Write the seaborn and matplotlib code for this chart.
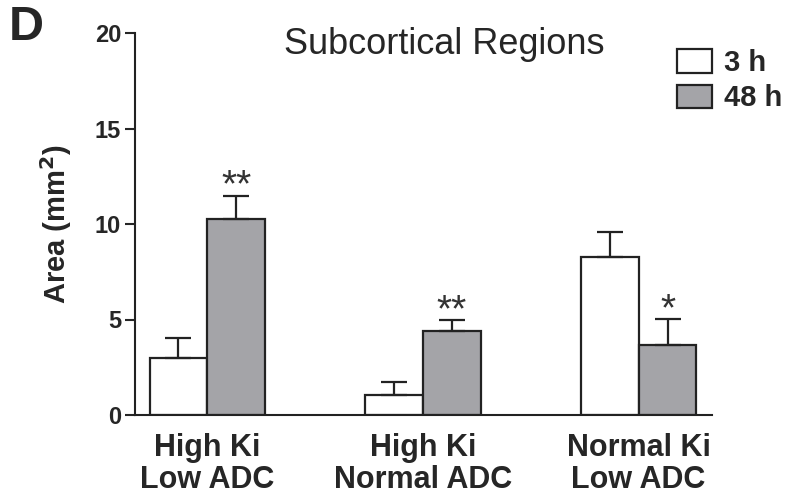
import seaborn as sns
import pandas as pd
import matplotlib.pyplot as plt

# data
regions = ['High Ki\nLow ADC', 'High Ki\nNormal ADC', 'Normal Ki\nLow ADC']
times = ['3 h', '48 h']
area_3h = [3.0, 1.05, 8.26]
area_48h = [10.26, 4.41, 3.65]
sem_3h = [1.05, 0.66, 1.34]
sem_48h = [1.22, 0.55, 1.36]
stars_48h = ['**', '**', '*']

sns.set_style('ticks')
plt.rcParams['font.family'] = ['Liberation Sans', 'DejaVu Sans']

df = pd.DataFrame({
    'region': regions * 2,
    'time': [times[0]] * 3 + [times[1]] * 3,
    'area': area_3h + area_48h,
})

fig = plt.figure(figsize=(7.86, 4.97), dpi=100)
ax = fig.add_axes([135 / 786, 1 - 415 / 497, (712 - 135) / 786, (415 - 33) / 497])

# Type of plot
sns.barplot(data=df, x='region', y='area', hue='time', order=regions, hue_order=times,
            palette=['white', '#a4a4a8'], width=0.535, gap=0, errorbar=None,
            edgecolor='#222222', linewidth=1.6, saturation=1, ax=ax, legend=False)

# upper error bars + significance marks
errs = sem_3h + sem_48h
vals = area_3h + area_48h
bars = [p for p in ax.patches if p.get_height() > 0]
bars = sorted(bars, key=lambda p: (p.get_facecolor()[0] < 0.9, p.get_x()))
for i, p in enumerate(bars):
    xc = p.get_x() + p.get_width() / 2
    ax.errorbar(xc, vals[i], yerr=[[0], [errs[i]]], color='#222222', elinewidth=1.6,
                capsize=9.7, capthick=1.6, fmt='none')
    if i >= 3:
        ax.text(xc, vals[i] + errs[i] - 0.05, stars_48h[i - 3], ha='center', va='baseline',
                fontsize=28, color='#333333')

ax.set_ylim(0, 20)
ax.set_xlim(-0.335, 2.34)
ax.set_yticks([0, 5, 10, 15, 20])
ax.tick_params(axis='y', length=7, width=1.5, labelsize=17, pad=3)
ax.tick_params(axis='x', length=0, labelsize=22, pad=13)
for lab in ax.get_yticklabels():
    lab.set_fontweight('bold')
for lab in ax.get_xticklabels():
    lab.set_fontweight('bold')
    lab.set_linespacing(1.08)
for s in ['left', 'bottom']:
    ax.spines[s].set_linewidth(1.5)
    ax.spines[s].set_color('#222222')
sns.despine(ax=ax)

# Plot Labels
ax.set_xlabel('')
ax.set_ylabel('Area (mm$^\\mathbf{2}$)', fontsize=21, fontweight='bold', labelpad=15)

# Plot Title
fig.text(444 / 786, 1 - 44 / 497, 'Subcortical Regions', ha='center', va='center', fontsize=26)
fig.text(9 / 786, 1 - 28 / 497, 'D', ha='left', va='center', fontsize=35, fontweight='bold')

# legend
handles = [plt.Rectangle((0, 0), 1, 1, facecolor=c, edgecolor='#222222', linewidth=1.6)
           for c in ['white', '#a4a4a8']]
leg = fig.legend(handles, times, loc='upper left', bbox_to_anchor=(677 / 786, 1 - 49 / 497),
                 frameon=False, borderpad=0, borderaxespad=0, handlelength=1.2, handleheight=0.85,
                 labelspacing=0.25, handletextpad=0.4, prop={'size': 21, 'weight': 'bold'})

plt.savefig('out.png', dpi=100)
